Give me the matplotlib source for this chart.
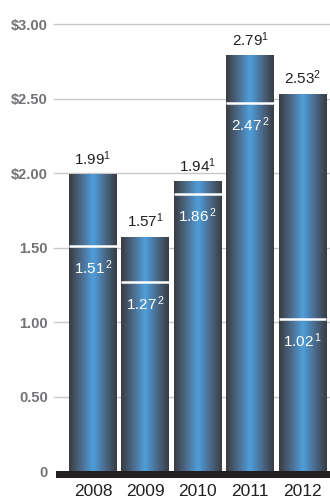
import matplotlib.pyplot as plt
import numpy as np
from matplotlib.colors import LinearSegmentedColormap
from matplotlib.patches import Rectangle
from matplotlib import font_manager

years = ['2008', '2009', '2010', '2011', '2012']
totals = [1.99, 1.57, 1.94, 2.79, 2.53]
total_notes = ['1', '1', '1', '1', '2']
splits = [1.51, 1.27, 1.86, 2.47, 1.02]
split_notes = ['2', '2', '2', '2', '1']
yticks = [0, 0.5, 1.0, 1.5, 2.0, 2.5, 3.0]
ytick_labels = ['0', '0.50', '1.00', '1.50', '$2.00', '$2.50', '$3.00']

names = {f.name for f in font_manager.fontManager.ttflist}
narrow = 'Liberation Sans Narrow' if 'Liberation Sans Narrow' in names else 'Liberation Sans'
plt.rcParams['font.family'] = [narrow, 'DejaVu Sans']
plt.rcParams['mathtext.fontset'] = 'custom'
plt.rcParams['mathtext.rm'] = narrow
plt.rcParams['mathtext.it'] = narrow

fig = plt.figure(figsize=(3.3, 4.98), dpi=100)
W, H = 330, 498
# axes in pixel terms: x from 56 to 330, y=0 at 471, y=3 at 24
ax = fig.add_axes([56 / W, (H - 471) / H, 274 / W, (471 - 24) / H])
ax.set_xlim(-0.706, 4.525)
ax.set_ylim(0, 3.0)

for s in ax.spines.values():
    s.set_visible(False)
ax.tick_params(length=0)
ax.set_xticks([])
ax.set_yticks(yticks)
ax.set_yticklabels(ytick_labels, fontsize=10.5, fontweight='bold', color='#727376')
ax.tick_params(axis='y', pad=6)
for y in yticks[1:]:
    ax.plot([-0.74, 4.525], [y, y], color='#c8c8c8', lw=1.0, clip_on=False, zorder=0)

cmap = LinearSegmentedColormap.from_list(
    'bar', ['#393b41', '#4b6a8a', '#4f9fdc', '#4b6a8a', '#393b41'])
grad = np.linspace(0, 1, 256).reshape(1, -1)
width = 0.916

for i, (tot, sp) in enumerate(zip(totals, splits)):
    x0, x1 = i - width / 2, i + width / 2
    ax.imshow(grad, cmap=cmap, aspect='auto', extent=[x0, x1, 0, tot],
              interpolation='bicubic', zorder=2)
    ax.plot([x0, x1], [sp, sp], color='white', lw=1.8, zorder=3,
            solid_capstyle='butt')
    ax.text(i, tot + 0.045, f'{tot:.2f}$^{{{total_notes[i]}}}$', ha='center',
            va='bottom', fontsize=11, color='#231f20', zorder=4)
    ax.text(i, sp - 0.085, f'{sp:.2f}$^{{\\,{split_notes[i]}}}$', ha='center',
            va='top', fontsize=11, color='white', zorder=4)
    ax.text(i, -0.09, years[i], ha='center', va='top', fontsize=12.5,
            color='#231f20')

ax.add_patch(Rectangle((-0.706, -0.045), 5.231, 0.047, color='#231f20',
                       clip_on=False, zorder=5, lw=0))

fig.savefig('out.png', dpi=100)
